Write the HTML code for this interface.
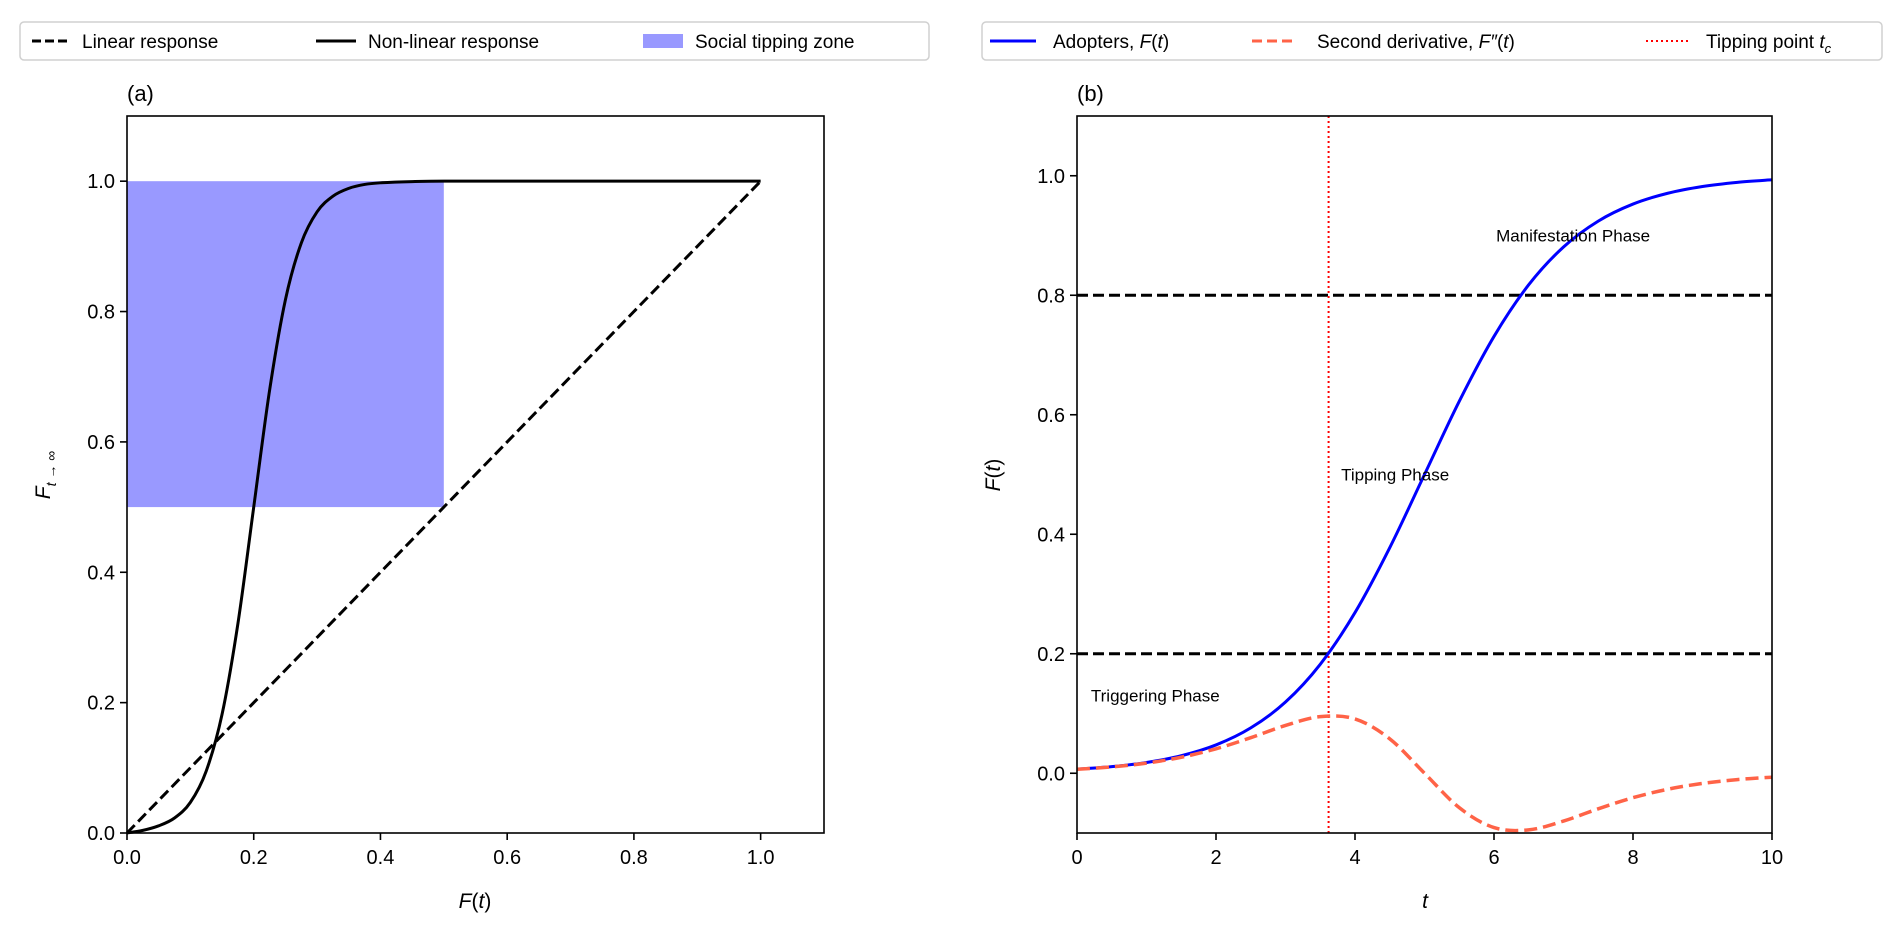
<!DOCTYPE html>
<html><head><meta charset="utf-8"><style>
html,body{margin:0;padding:0;background:#fff;}
svg{display:block;font-family:"Liberation Sans","DejaVu Sans",sans-serif;}
</style></head><body>
<svg id="c" width="1892" height="933" viewBox="0 0 1892 933" xmlns="http://www.w3.org/2000/svg">
<rect width="1892" height="933" fill="#fff"/>
</svg>
<script>
// Panel (a) data
const aX = [0,0.025,0.05,0.075,0.1,0.125,0.15,0.175,0.2,0.225,0.25,0.275,0.3,0.325,0.35,0.375,0.4,0.45,0.5,0.6,0.7,0.8,0.9,1.0];
const aNonlinear = [0,0.004,0.011,0.023,0.047,0.095,0.182,0.321,0.5,0.679,0.818,0.905,0.953,0.977,0.989,0.995,0.9975,0.9994,1,1,1,1,1,1];
const aLinearX = [0,1];
const aLinearY = [0,1];
const zoneX = [0,0.5];
const zoneY = [0.5,1.0];
const aXTicks = [0,0.2,0.4,0.6,0.8,1.0];
const aYTicks = [0,0.2,0.4,0.6,0.8,1.0];
// Panel (b) data
const bT = [0,0.5,1,1.5,2,2.5,3,3.5,4,4.5,5,5.5,6,6.5,7,7.5,8,8.5,9,9.5,10];
const bF = [0.0067,0.0110,0.0180,0.0293,0.0474,0.0759,0.1192,0.1824,0.2689,0.3775,0.5,0.6225,0.7311,0.8176,0.8808,0.9241,0.9526,0.9707,0.9820,0.9890,0.9933];
const bF2 = [0.0066,0.0106,0.0170,0.0268,0.0409,0.0595,0.0800,0.0947,0.0909,0.0576,0,-0.0576,-0.0909,-0.0947,-0.0800,-0.0595,-0.0409,-0.0268,-0.0170,-0.0106,-0.0066];
const tippingT = [3.62];
const phaseLines = [0.2,0.8];
const phaseLabels = ["Triggering Phase","Tipping Phase","Manifestation Phase"];
const phaseLabelT = [0.2,3.8,6.03];
const phaseLabelY = [0.13,0.5,0.9];
const bXTicks = [0,2,4,6,8,10];
const bYTicks = [0,0.2,0.4,0.6,0.8,1.0];

const svg = document.getElementById('c');
const NS = 'http://www.w3.org/2000/svg';
function el(tag, attrs, parent){const e=document.createElementNS(NS,tag);for(const k in attrs)e.setAttribute(k,attrs[k]);(parent||svg).appendChild(e);return e;}
function fmt(v,d){return v.toFixed(d);}
function smooth(pts){
  let d='M'+pts[0][0].toFixed(2)+','+pts[0][1].toFixed(2);
  for(let i=0;i<pts.length-1;i++){
    const p0=pts[i-1]||pts[i],p1=pts[i],p2=pts[i+1],p3=pts[i+2]||p2;
    const c1=[p1[0]+(p2[0]-p0[0])/6,p1[1]+(p2[1]-p0[1])/6];
    const c2=[p2[0]-(p3[0]-p1[0])/6,p2[1]-(p3[1]-p1[1])/6];
    d+='C'+c1[0].toFixed(2)+','+c1[1].toFixed(2)+' '+c2[0].toFixed(2)+','+c2[1].toFixed(2)+' '+p2[0].toFixed(2)+','+p2[1].toFixed(2);
  }
  return d;
}
// axes geometry
const A={l:127,r:824,t:116,b:833,x0:0,x1:1.1,y0:0,y1:1.1};
const B={l:1077,r:1772,t:116,b:833,x0:0,x1:10,y0:-0.1,y1:1.1};
const sx=(ax,v)=>ax.l+(v-ax.x0)/(ax.x1-ax.x0)*(ax.r-ax.l);
const sy=(ax,v)=>ax.b-(v-ax.y0)/(ax.y1-ax.y0)*(ax.b-ax.t);

function axes(ax,xt,yt,xd,yd,name){
  const g=el('g',{});
  
  
  xt.forEach(v=>{
    const x=sx(ax,v);
    const t=el('line',{x1:x,x2:x,y1:ax.b,y2:ax.b+7,stroke:'#000','stroke-width':1.6},g);
    
    const lb=el('text',{x:x,y:ax.b+31,'font-size':20,'text-anchor':'middle',fill:'#000'},g);
    lb.textContent=fmt(v,xd);
    
  });
  yt.forEach(v=>{
    const y=sy(ax,v);
    const t=el('line',{x1:ax.l-7,x2:ax.l,y1:y,y2:y,stroke:'#000','stroke-width':1.6},g);
    
    const lb=el('text',{x:ax.l-12,y:y+7,'font-size':20,'text-anchor':'end',fill:'#000'},g);
    lb.textContent=fmt(v,yd);
    
  });
  return g;
}
function frame(ax,name){
  const f=el('rect',{x:ax.l,y:ax.t,width:ax.r-ax.l,height:ax.b-ax.t,fill:'none',stroke:'#000','stroke-width':1.6});
  
}

// ---- Panel (a)
const zone=el('rect',{x:sx(A,zoneX[0]),y:sy(A,zoneY[1]),width:sx(A,zoneX[1])-sx(A,zoneX[0]),height:sy(A,zoneY[0])-sy(A,zoneY[1]),fill:'#9999ff'});


const lin=el('line',{x1:sx(A,aLinearX[0]),y1:sy(A,aLinearY[0]),x2:sx(A,aLinearX[1]),y2:sy(A,aLinearY[1]),stroke:'#000','stroke-width':3,'stroke-dasharray':'11 5'});


const nl=el('path',{d:smooth(aX.map((x,i)=>[sx(A,x),sy(A,aNonlinear[i])])),fill:'none',stroke:'#000','stroke-width':3});


axes(A,aXTicks,aYTicks,1,1,'panel-a');
frame(A,'panel-a');

// ---- Panel (b)
const clipB=el('clipPath',{id:'clipB'});
el('rect',{x:B.l,y:B.t,width:B.r-B.l,height:B.b-B.t},clipB);
phaseLines.forEach(v=>{
  const h=el('line',{x1:B.l,x2:B.r,y1:sy(B,v),y2:sy(B,v),stroke:'#000','stroke-width':3,'stroke-dasharray':'11 5'});
  
  
});
const tl=el('line',{x1:sx(B,tippingT[0]),x2:sx(B,tippingT[0]),y1:B.t,y2:B.b,stroke:'#ff0000','stroke-width':2,'stroke-dasharray':'2 3'});


const f2=el('path',{d:smooth(bT.map((t,i)=>[sx(B,t),sy(B,bF2[i])])),fill:'none',stroke:'#ff6347','stroke-width':3.5,'stroke-dasharray':'13 6','clip-path':'url(#clipB)'});


const fl=el('path',{d:smooth(bT.map((t,i)=>[sx(B,t),sy(B,bF[i])])),fill:'none',stroke:'#0000ff','stroke-width':3,'clip-path':'url(#clipB)'});


svg.appendChild(f2);
phaseLabels.forEach((s,i)=>{
  const t=el('text',{x:sx(B,phaseLabelT[i]),y:sy(B,phaseLabelY[i])+6,'font-size':17,fill:'#000'});
  t.textContent=s;
  
  
});
axes(B,bXTicks,bYTicks,0,1,'panel-b');
frame(B,'panel-b');
</script>
<svg width="0" height="0"></svg>
<script>
(function(){
const svg=document.getElementById('c');
const NS='http://www.w3.org/2000/svg';
function el(tag,attrs,parent){const e=document.createElementNS(NS,tag);for(const k in attrs)e.setAttribute(k,attrs[k]);(parent||svg).appendChild(e);return e;}
function txt(x,y,s,size,extra,name){const t=el('text',Object.assign({x:x,y:y,'font-size':size,fill:'#000'},extra||{}));t.innerHTML=s;


return t;}
// titles / axis labels
txt(127,101,'(a)',22,{},'panel-a-title');
txt(1077,101,'(b)',22,{},'panel-b-title');
txt(475,908,'<tspan font-style="italic">F</tspan>(<tspan font-style="italic">t</tspan>)',21,{'text-anchor':'middle'},'x-axis-title-a');
txt(1425,908,'t',21,{'text-anchor':'middle','font-style':'italic'},'x-axis-title-b');
txt(0,0,'<tspan font-style="italic">F</tspan><tspan font-size="14" dy="6" font-style="italic">t</tspan><tspan font-size="14" dy="0"> → ∞</tspan>',21,{transform:'translate(50,475) rotate(-90)','text-anchor':'middle'},'y-axis-title-a');
txt(0,0,'<tspan font-style="italic">F</tspan>(<tspan font-style="italic">t</tspan>)',21,{transform:'translate(1000,475) rotate(-90)','text-anchor':'middle'},'y-axis-title-b');
// legends
function box(x,y,w,h,name){const r=el('rect',{x:x,y:y,width:w,height:h,rx:4,fill:'#fff',stroke:'#d0d0d0','stroke-width':1.5});

}
box(20,22,909,38,'legend-a');
box(982,22,900,38,'legend-b');
const ly=41, fs=19;
el('line',{x1:32,x2:70,y1:ly,y2:ly,stroke:'#000','stroke-width':3,'stroke-dasharray':'9 4'});
txt(82,ly+7,'Linear response',fs,{},'legend-entry-linear');
el('line',{x1:316,x2:356,y1:ly,y2:ly,stroke:'#000','stroke-width':3});
txt(368,ly+7,'Non-linear response',fs,{},'legend-entry-nonlinear');
el('rect',{x:643,y:ly-7,width:40,height:14,fill:'#9999ff'});
txt(695,ly+7,'Social tipping zone',fs,{},'legend-entry-zone');
el('line',{x1:990,x2:1036,y1:ly,y2:ly,stroke:'#0000ff','stroke-width':3});
txt(1053,ly+7,'Adopters, <tspan font-style="italic">F</tspan>(<tspan font-style="italic">t</tspan>)',fs,{},'legend-entry-adopters');
el('line',{x1:1252,x2:1296,y1:ly,y2:ly,stroke:'#ff6347','stroke-width':3,'stroke-dasharray':'10 5'});
txt(1317,ly+7,'Second derivative, <tspan font-style="italic">F″</tspan>(<tspan font-style="italic">t</tspan>)',fs,{},'legend-entry-second-derivative');
el('line',{x1:1646,x2:1690,y1:ly,y2:ly,stroke:'#ff0000','stroke-width':2,'stroke-dasharray':'2 3'});
txt(1706,ly+7,'Tipping point <tspan font-style="italic">t</tspan><tspan font-size="13" dy="5" font-style="italic">c</tspan>',fs,{},'legend-entry-tipping-point');
})();
</script>
</body></html>
